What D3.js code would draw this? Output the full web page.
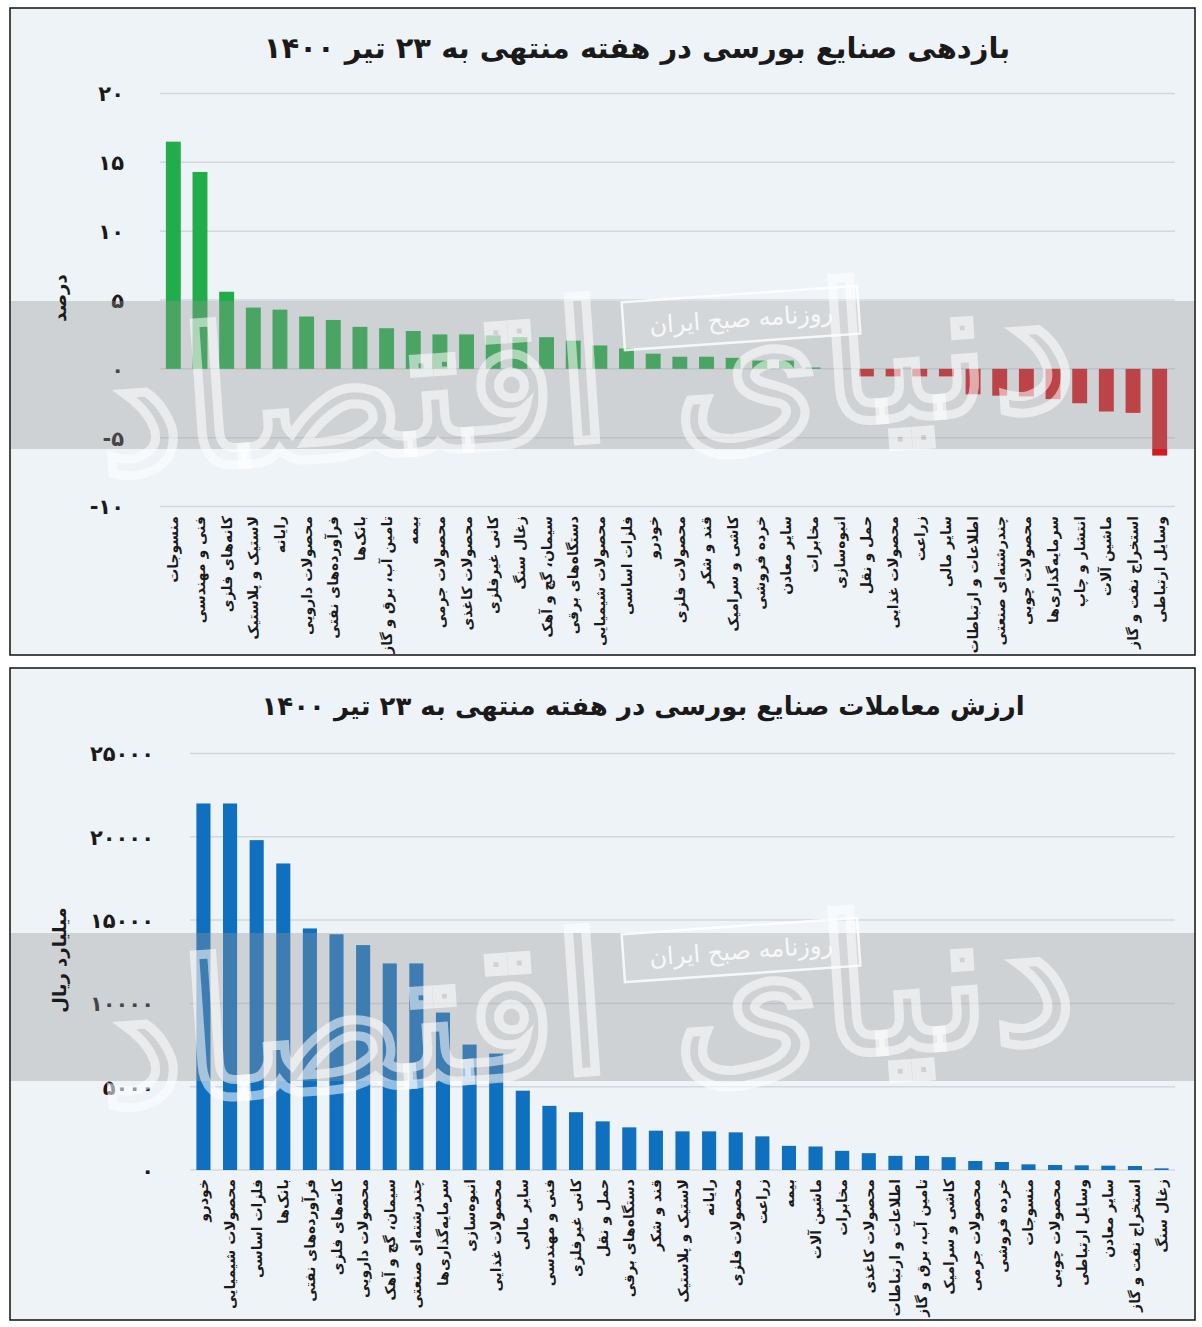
<!DOCTYPE html>
<html><head><meta charset="utf-8">
<script src="https://cdn.jsdelivr.net/npm/d3@7"></script>
<style>
html,body{margin:0;padding:0;background:#fff;}
svg{display:block;}
text{font-family:"DejaVu Sans",sans-serif;}
</style></head>
<body>
<svg id="c" width="1202" height="1327"></svg>
<script>
// ---------- DATA ----------
const returnCategories = ["منسوجات","فنی و مهندسی","کانه‌های فلزی","لاستیک و پلاستیک","رایانه","محصولات دارویی","فرآورده‌های نفتی","بانک‌ها","تامین آب، برق و گاز","بیمه","محصولات جرمی","محصولات کاغذی","کانی غیرفلزی","زغال سنگ","سیمان، گچ و آهک","دستگاه‌های برقی","محصولات شیمیایی","فلزات اساسی","خودرو","محصولات فلزی","قند و شکر","کاشی و سرامیک","خرده فروشی","سایر معادن","مخابرات","انبوه‌سازی","حمل و نقل","محصولات غذایی","زراعت","سایر مالی","اطلاعات و ارتباطات","چندرشته‌ای صنعتی","محصولات چوبی","سرمایه‌گذاری‌ها","انتشار و چاپ","ماشین آلات","استخراج نفت و گاز","وسایل ارتباطی"];
const returnValues = [16.5,14.3,5.6,4.45,4.3,3.8,3.55,3.05,2.95,2.75,2.5,2.5,2.43,2.3,2.3,2.05,1.7,1.48,1.1,0.88,0.88,0.8,0.6,0.6,0.1,0,-0.55,-0.55,-0.55,-0.55,-1.85,-1.95,-2.0,-2.2,-2.5,-3.1,-3.2,-6.3];
const returnTicks = [-10,-5,0,5,10,15,20];

const valueCategories = ["خودرو","محصولات شیمیایی","فلزات اساسی","بانک‌ها","فرآورده‌های نفتی","کانه‌های فلزی","محصولات دارویی","سیمان، گچ و آهک","چندرشته‌ای صنعتی","سرمایه‌گذاری‌ها","انبوه‌سازی","محصولات غذایی","سایر مالی","فنی و مهندسی","کانی غیرفلزی","حمل و نقل","دستگاه‌های برقی","قند و شکر","لاستیک و پلاستیک","رایانه","محصولات فلزی","زراعت","بیمه","ماشین آلات","مخابرات","محصولات کاغذی","اطلاعات و ارتباطات","تامین آب، برق و گاز","کاشی و سرامیک","محصولات جرمی","خرده فروشی","منسوجات","محصولات چوبی","وسایل ارتباطی","سایر معادن","استخراج نفت و گاز","زغال سنگ"];
const tradeValues = [22000,22000,19800,18400,14500,14150,13500,12400,12400,9450,7530,6990,4760,3850,3470,2920,2560,2360,2320,2320,2260,2020,1450,1410,1150,1010,850,850,770,540,480,340,300,280,260,240,100];
const valueTicks = [0,5000,10000,15000,20000,25000];

const title1 = "بازدهی صنایع بورسی در هفته منتهی به ۲۳ تیر ۱۴۰۰";
const title2 = "ارزش معاملات صنایع بورسی در هفته منتهی به ۲۳ تیر ۱۴۰۰";
const yLabel1 = "درصد";
const yLabel2 = "میلیارد ریال";

// ---------- HELPERS ----------
const fa = s => String(s).replace(/\d/g, d => "۰۱۲۳۴۵۶۷۸۹"[d]);
const svg = d3.select("#c");
const BG = "#eef3f8", GRID = "#d3d8dd";

function panel(y0, h){
  svg.append("rect").attr("x",10).attr("y",y0).attr("width",1185).attr("height",h)
    .attr("fill",BG).attr("stroke","#111").attr("stroke-width",1.5);
}
function watermark(g, bandY, bandH, boxCx, boxCy, callY){
  g.append("rect").attr("x",11).attr("y",bandY).attr("width",1183).attr("height",bandH)
    .attr("fill","rgb(150,150,150)").attr("fill-opacity",0.35);
  g.append("text").attr("x",590).attr("y",callY).attr("text-anchor","middle")
    .attr("font-size",190)
    .attr("textLength",980).attr("lengthAdjust","spacingAndGlyphs")
    .attr("fill","none").attr("stroke","#ffffff").attr("stroke-opacity",0.55).attr("stroke-width",9)
    .attr("transform",`rotate(-4,590,${callY})`)
    .text("دنیای اقتصاد");
  const bx = g.append("g").attr("transform",`translate(${boxCx},${boxCy}) rotate(-4)`);
  bx.append("rect").attr("x",-118).attr("y",-24).attr("width",236).attr("height",48)
    .attr("fill","#ffffff").attr("fill-opacity",0.12).attr("stroke","#ffffff").attr("stroke-opacity",0.8).attr("stroke-width",2.5);
  bx.append("text").attr("x",0).attr("y",9).attr("text-anchor","middle")
    .attr("font-size",24).attr("fill","#ffffff").attr("fill-opacity",0.85).text("روزنامه صبح ایران");
}

// ---------- TOP CHART ----------
panel(8, 647);
{
  const x = d3.scaleBand().domain(returnCategories).range([160,1173]).paddingInner(0.44).paddingOuter(0.22);
  const y = d3.scaleLinear().domain([-10,20]).range([506.5,93.5]);
  const g = svg.append("g");
  svg.append("text").attr("x",637).attr("y",58).attr("text-anchor","middle")
    .attr("font-size",29).attr("font-weight","bold").attr("fill","#1a1a1a").text(title1);
  g.selectAll(".grid").data(returnTicks).join("line")
    .attr("x1",160).attr("x2",1175).attr("y1",d=>y(d)).attr("y2",d=>y(d))
    .attr("stroke",GRID).attr("stroke-width",1.5);
  const ax = svg.append("g").attr("transform","translate(127,0)")
    .call(d3.axisLeft(y).tickValues(returnTicks).tickSize(0).tickFormat(d=>fa(d)));
  ax.select(".domain").remove();
  ax.selectAll("text").attr("font-size",21).attr("font-weight","bold").attr("fill","#1a1a1a")
    .attr("font-family","DejaVu Sans").attr("direction","ltr").attr("dy","0.35em");
  g.selectAll(".bar").data(returnCategories).join("rect")
    .attr("x",d=>x(d)).attr("width",x.bandwidth())
    .attr("y",(d,i)=>y(Math.max(0,returnValues[i])))
    .attr("height",(d,i)=>Math.abs(y(returnValues[i])-y(0)))
    .attr("fill",(d,i)=>returnValues[i]>=0?"#22ad4b":"#d21a20");
  watermark(svg.append("g"), 301, 148, 741, 318, 440);
  svg.append("g").selectAll("text").data(returnCategories).join("text")
    .attr("transform",d=>`translate(${x(d)+x.bandwidth()/2+5},516) rotate(-90)`)
    .attr("text-anchor","end").attr("font-size",14).attr("font-weight","bold").attr("fill","#1a1a1a")
    .text(d=>d);
  svg.append("text").attr("transform","translate(66,298) rotate(-90)").attr("text-anchor","middle")
    .attr("font-size",18).attr("font-weight","bold").attr("fill","#1a1a1a").text(yLabel1);
}

// ---------- BOTTOM CHART ----------
panel(668, 652);
{
  const x = d3.scaleBand().domain(valueCategories).range([190,1175]).paddingInner(0.47).paddingOuter(0.24);
  const y = d3.scaleLinear().domain([0,25000]).range([1170,753.5]);
  const g = svg.append("g");
  svg.append("text").attr("x",643).attr("y",715).attr("text-anchor","middle")
    .attr("font-size",26).attr("font-weight","bold").attr("fill","#1a1a1a").text(title2);
  g.selectAll(".grid").data(valueTicks).join("line")
    .attr("x1",190).attr("x2",1175).attr("y1",d=>y(d)).attr("y2",d=>y(d))
    .attr("stroke",GRID).attr("stroke-width",1.5);
  const ax = svg.append("g").attr("transform","translate(157,0)")
    .call(d3.axisLeft(y).tickValues(valueTicks).tickSize(0).tickFormat(d=>fa(d)));
  ax.select(".domain").remove();
  ax.selectAll("text").attr("font-size",21).attr("font-weight","bold").attr("fill","#1a1a1a")
    .attr("font-family","DejaVu Sans").attr("direction","ltr").attr("dy","0.35em");
  g.selectAll(".bar").data(valueCategories).join("rect")
    .attr("x",d=>x(d)).attr("width",x.bandwidth())
    .attr("y",(d,i)=>y(tradeValues[i]))
    .attr("height",(d,i)=>y(0)-y(tradeValues[i]))
    .attr("fill","#1070c0");
  watermark(svg.append("g"), 933, 148, 741, 950, 1072);
  svg.append("g").selectAll("text").data(valueCategories).join("text")
    .attr("transform",d=>`translate(${x(d)+x.bandwidth()/2+5},1179) rotate(-90)`)
    .attr("text-anchor","end").attr("font-size",14).attr("font-weight","bold").attr("fill","#1a1a1a")
    .text(d=>d);
  svg.append("text").attr("transform","translate(66,960) rotate(-90)").attr("text-anchor","middle")
    .attr("font-size",18).attr("font-weight","bold").attr("fill","#1a1a1a").text(yLabel2);
}
</script>
</body></html>
